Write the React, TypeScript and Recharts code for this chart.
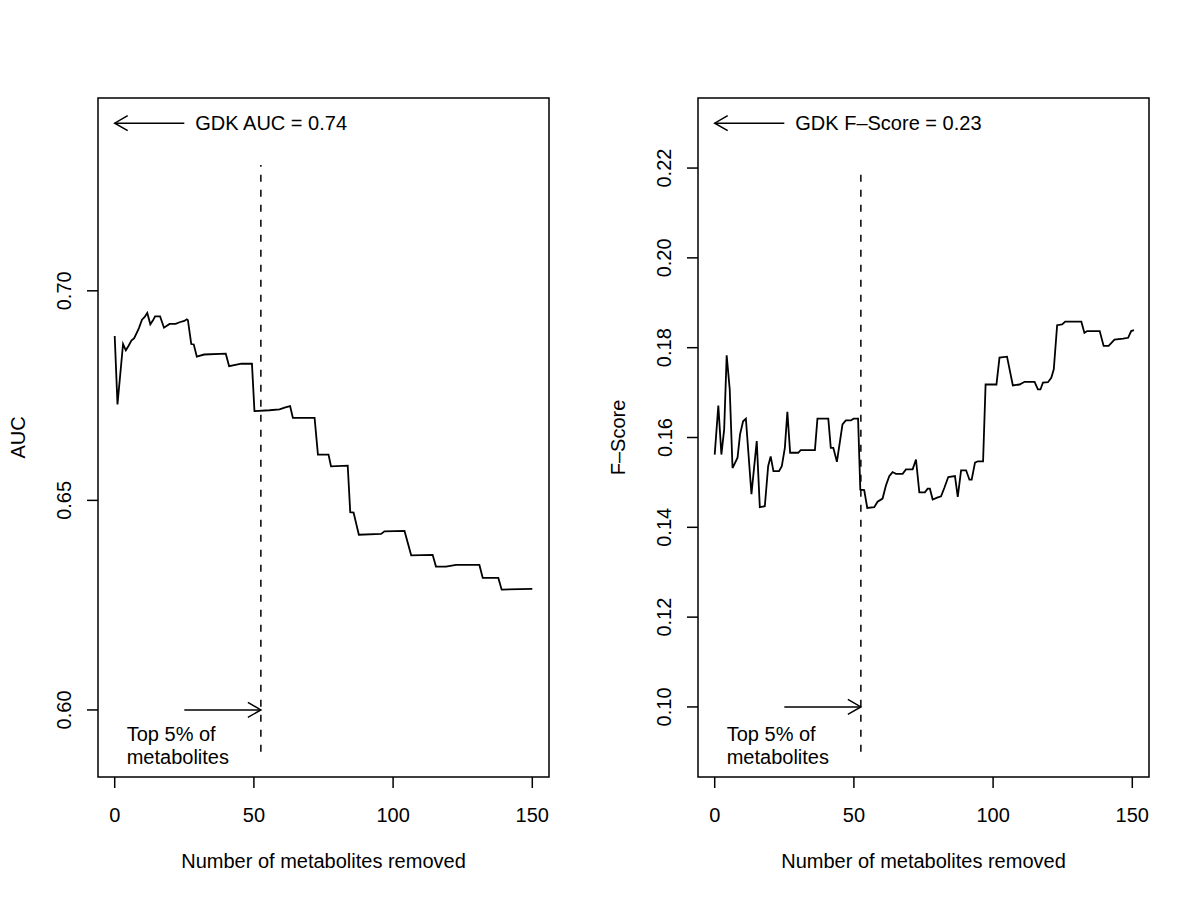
import React from 'react';
import { LineChart, Line, XAxis, YAxis, ReferenceLine, ReferenceArea, ReferenceDot, Label } from 'recharts';

// values (x = number of metabolites removed)
const xTicks = [0, 50, 100, 150];
const aucTicks = [0.6, 0.65, 0.7];
const fTicks = [0.1, 0.12, 0.14, 0.16, 0.18, 0.2, 0.22];

const aucX = [0, 1, 3, 4, 5, 6, 7, 8, 8.7, 9.8, 10.7, 11.7, 12.8, 13.7, 14.5, 16.3, 17.7, 19.7, 21.9, 23.3, 25, 25.9, 26.3, 27.5, 28.4, 29.5, 32.1, 39.9, 41.1, 45.5, 49.3, 50.2, 55.6, 59.2, 61.3, 63, 64, 71.8, 73, 76.8, 77.7, 83.7, 84.6, 85.8, 87.7, 95.7, 96.9, 104.1, 106.5, 114.2, 115.4, 119, 122.6, 131, 132.2, 137.8, 139, 150];
const aucY = [0.6892, 0.6729, 0.6873, 0.6858, 0.6869, 0.6881, 0.6887, 0.6901, 0.6911, 0.6931, 0.6937, 0.6947, 0.692, 0.6929, 0.6939, 0.6939, 0.6912, 0.6921, 0.6921, 0.6925, 0.6928, 0.6932, 0.693, 0.6873, 0.6872, 0.6843, 0.6848, 0.685, 0.682, 0.6826, 0.6826, 0.6713, 0.6715, 0.6717, 0.6722, 0.6725, 0.6697, 0.6697, 0.6609, 0.6609, 0.6581, 0.6583, 0.6472, 0.6471, 0.6418, 0.642, 0.6426, 0.6427, 0.6369, 0.637, 0.6342, 0.6342, 0.6346, 0.6346, 0.6315, 0.6315, 0.6287, 0.6289];

const fX = [0, 1.3, 2.4, 3.4, 4.3, 5.4, 6.4, 8.2, 9.1, 10.2, 11.2, 13.2, 15.1, 16.2, 18, 19.2, 20.1, 21.1, 23.1, 24.1, 25.2, 26.1, 27.1, 30, 30.9, 36, 36.9, 40.8, 41.7, 42.6, 43.9, 45.9, 47.1, 48.9, 49.9, 51.5, 52.3, 53.7, 54.8, 57.3, 58.5, 60.3, 61.5, 62.7, 63.9, 65.1, 67.5, 68.7, 71.1, 72.3, 73.5, 75.5, 76.5, 77.3, 78.3, 79.9, 81.3, 82.5, 83.9, 86.3, 87.3, 88.5, 90.3, 91.5, 92.3, 93.5, 94.5, 96.4, 97.3, 101.2, 102.3, 105, 107.1, 109.5, 111.3, 114.9, 116.1, 117, 117.9, 119.7, 120.9, 121.8, 123, 124.8, 125.9, 131.7, 132.8, 133.8, 138.3, 139.7, 141.5, 143.6, 146.7, 148.5, 149.6, 150.6];
const fY = [0.1562, 0.1671, 0.1562, 0.1618, 0.1783, 0.1707, 0.1532, 0.1555, 0.1607, 0.1636, 0.1642, 0.1474, 0.1592, 0.1445, 0.1447, 0.1536, 0.1558, 0.1525, 0.1525, 0.1536, 0.1577, 0.1657, 0.1566, 0.1566, 0.1572, 0.1572, 0.1642, 0.1642, 0.1577, 0.1577, 0.1546, 0.1629, 0.1638, 0.1638, 0.1642, 0.1642, 0.1484, 0.1483, 0.1443, 0.1445, 0.1457, 0.1464, 0.1493, 0.1514, 0.1523, 0.1519, 0.1519, 0.1529, 0.1529, 0.1551, 0.1478, 0.1478, 0.1486, 0.1486, 0.1462, 0.1466, 0.1469, 0.1488, 0.1512, 0.1514, 0.1468, 0.1527, 0.1527, 0.1506, 0.1506, 0.1544, 0.1547, 0.1547, 0.1718, 0.1718, 0.1778, 0.178, 0.1716, 0.1718, 0.1724, 0.1724, 0.1707, 0.1707, 0.1722, 0.1723, 0.1733, 0.1752, 0.185, 0.1852, 0.1858, 0.1858, 0.1833, 0.1837, 0.1837, 0.1804, 0.1804, 0.1818, 0.182, 0.1822, 0.1837, 0.1839];

const cutoff = 52.5; // top 5% of metabolites
const arrowStart = 25;

const FONT = '"Liberation Sans", Arial, Helvetica, sans-serif';
const FS = 20;
const INK = '#000';

const arrowShape = (text?: string) => (p: any) => {
  const { x1, y1, x2, y2 } = p;
  const ang = Math.atan2(y2 - y1, x2 - x1);
  const L = 15;
  const a1 = ang + Math.PI / 6;
  const a2 = ang - Math.PI / 6;
  const head = `M${x2 - L * Math.cos(a1)},${y2 - L * Math.sin(a1)} L${x2},${y2} L${x2 - L * Math.cos(a2)},${y2 - L * Math.sin(a2)}`;
  return (
    <g>
      <line x1={x1} y1={y1} x2={x2} y2={y2} stroke={INK} strokeWidth={1.5} />
      <path d={head} fill="none" stroke={INK} strokeWidth={1.5} />
      {text && (
        <text x={x1 + 11} y={y1} dominantBaseline="central" fontFamily={FONT} fontSize={FS} fill={INK}>
          {text}
        </text>
      )}
    </g>
  );
};

const XTick = (props: any) => {
  const { x, y, payload } = props;
  return (
    <text x={x} y={y + 27} textAnchor="middle" dominantBaseline="central" fontFamily={FONT} fontSize={FS} fill={INK}>
      {payload.value}
    </text>
  );
};

const YTick = (props: any) => {
  const { x, y, payload } = props;
  const tx = x - 22.5;
  return (
    <text x={tx} y={y} transform={`rotate(-90 ${tx} ${y})`} textAnchor="middle" dominantBaseline="central" fontFamily={FONT} fontSize={FS} fill={INK}>
      {Number(payload.value).toFixed(2)}
    </text>
  );
};

interface PanelProps {
  xs: number[];
  ys: number[];
  yDomain: [number, number];
  yTicks: number[];
  yLabel: string;
  gdkText: string;
  gdkValue: number;
  dashLow: number;
  dashHigh: number;
  arrowY: number;
  left: number;
}

const Panel: React.FC<PanelProps> = ({ xs, ys, yDomain, yTicks, yLabel, gdkText, gdkValue, dashLow, dashHigh, arrowY, left }) => {
  const data = xs.map((x, i) => ({ x, y: ys[i] }));
  return (
    <div style={{ position: 'absolute', left, top: 0 }}>
      <LineChart width={600} height={900} data={data} margin={{ top: 98, right: 51, bottom: 63, left: 0 }}>
        <XAxis
          dataKey="x"
          type="number"
          domain={[-6, 156]}
          ticks={xTicks}
          allowDataOverflow
          axisLine={false}
          tickLine={{ stroke: INK, strokeWidth: 1.5 }}
          tickSize={11}
          tickMargin={0}
          tick={<XTick />}
          height={60}
          interval={0}
        >
          <Label
            content={(p: any) => {
              const vb = p.viewBox;
              return (
                <text x={vb.x + vb.width / 2} y={vb.y + 84} textAnchor="middle" dominantBaseline="central" fontFamily={FONT} fontSize={FS} fill={INK}>
                  Number of metabolites removed
                </text>
              );
            }}
          />
        </XAxis>
        <YAxis
          type="number"
          domain={yDomain}
          ticks={yTicks}
          allowDataOverflow
          axisLine={false}
          tickLine={{ stroke: INK, strokeWidth: 1.5 }}
          tickSize={11}
          tickMargin={0}
          tick={<YTick />}
          width={98}
          interval={0}
        >
          <Label
            content={(p: any) => {
              const vb = p.viewBox;
              const lx = vb.x + 17.5;
              const ly = vb.y + vb.height / 2;
              return (
                <text x={lx} y={ly} transform={`rotate(-90 ${lx} ${ly})`} textAnchor="middle" dominantBaseline="central" fontFamily={FONT} fontSize={FS} fill={INK}>
                  {yLabel}
                </text>
              );
            }}
          />
        </YAxis>
        <ReferenceArea x1={-6} x2={156} y1={yDomain[0]} y2={yDomain[1]} fill="none" stroke={INK} strokeWidth={1.5} ifOverflow="visible" />
        <ReferenceLine
          segment={[{ x: cutoff, y: dashLow }, { x: cutoff, y: dashHigh }]}
          stroke={INK}
          strokeWidth={1.5}
          strokeDasharray="7 8"
        />
        <ReferenceLine segment={[{ x: arrowStart, y: gdkValue }, { x: 0, y: gdkValue }]} shape={arrowShape(gdkText)} />
        <ReferenceLine segment={[{ x: arrowStart, y: arrowY }, { x: cutoff, y: arrowY }]} shape={arrowShape()} />
        <ReferenceDot
          x={0}
          y={dashLow}
          r={0}
          shape={(p: any) => (
            <text x={p.cx + 12} y={p.cy} fontFamily={FONT} fontSize={FS} fill={INK}>
              <tspan x={p.cx + 12} y={p.cy - 17.5} dominantBaseline="central">Top 5% of</tspan>
              <tspan x={p.cx + 12} y={p.cy + 5.5} dominantBaseline="central">metabolites</tspan>
            </text>
          )}
        />
        <Line type="linear" dataKey="y" stroke={INK} strokeWidth={1.8} dot={false} isAnimationActive={false} />
      </LineChart>
    </div>
  );
};

export default function App() {
  return (
    <div style={{ position: 'absolute', left: 0, top: 0, width: 1200, height: 900, background: '#fff' }}>
      <Panel
        xs={aucX}
        ys={aucY}
        yDomain={[0.584, 0.746]}
        yTicks={aucTicks}
        yLabel="AUC"
        gdkText="GDK AUC = 0.74"
        gdkValue={0.74}
        dashLow={0.59}
        dashHigh={0.73}
        arrowY={0.6}
        left={0}
      />
      <Panel
        xs={fX}
        ys={fY}
        yDomain={[0.0844, 0.2356]}
        yTicks={fTicks}
        yLabel="F–Score"
        gdkText="GDK F–Score = 0.23"
        gdkValue={0.23}
        dashLow={0.09}
        dashHigh={0.22}
        arrowY={0.1}
        left={600}
      />
    </div>
  );
}
